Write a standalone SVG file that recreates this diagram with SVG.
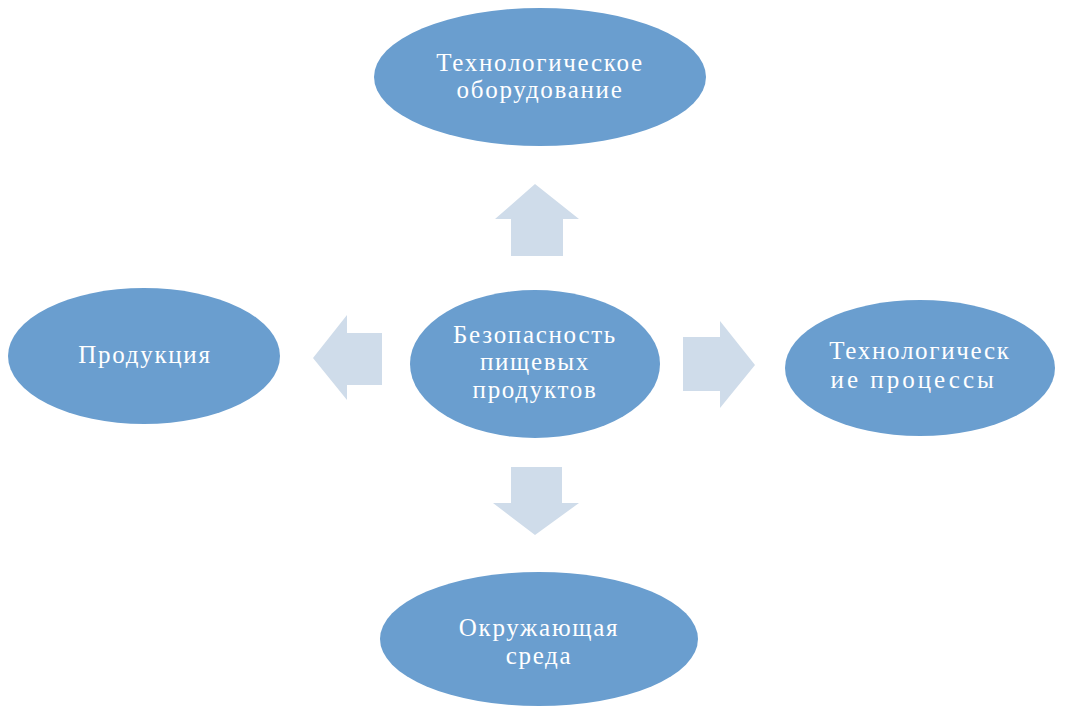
<svg xmlns="http://www.w3.org/2000/svg" width="1065" height="720" viewBox="0 0 1065 720">
<style>
.n{fill:#6a9ecf}
.t{font-family:"Liberation Serif","Times New Roman",serif;font-size:25px;fill:#ffffff;text-anchor:middle;letter-spacing:1.7px}
.a{fill:#cfdcea}
</style>
<rect width="1065" height="720" fill="#ffffff"/>
<g id="connectors">
<polygon class="a" points="535,184 579,219 563,219 563,256 511,256 511,219 495,219"/>
<polygon class="a" points="313,358 347,315 347,333 382,333 382,385 347,385 347,400"/>
<polygon class="a" points="755,365 720,321 720,337 683,337 683,391 720,391 720,408"/>
<polygon class="a" points="535,535 579,503 562,503 562,467 511,467 511,503 493,503"/>
</g>
<g id="top"><ellipse class="n" cx="540" cy="77" rx="166" ry="69"/><text class="t" x="540" y="71">Технологическое</text><text class="t" x="540" y="98">оборудование</text></g>
<g id="center"><ellipse class="n" cx="535" cy="364" rx="125" ry="74"/><text class="t" x="535" y="343">Безопасность</text><text class="t" x="535" y="370">пищевых</text><text class="t" x="535" y="398">продуктов</text></g>
<g id="left"><ellipse class="n" cx="144" cy="356" rx="136" ry="68"/><text class="t" x="145" y="363">Продукция</text></g>
<g id="right"><ellipse class="n" cx="920" cy="368" rx="135" ry="68"/><text class="t" x="920" y="359">Технологическ</text><text class="t" x="913" y="388" textLength="165" lengthAdjust="spacing">ие процессы</text></g>
<g id="bottom"><ellipse class="n" cx="539" cy="639" rx="159" ry="67"/><text class="t" x="539" y="636">Окружающая</text><text class="t" x="539" y="664">среда</text></g>
</svg>
